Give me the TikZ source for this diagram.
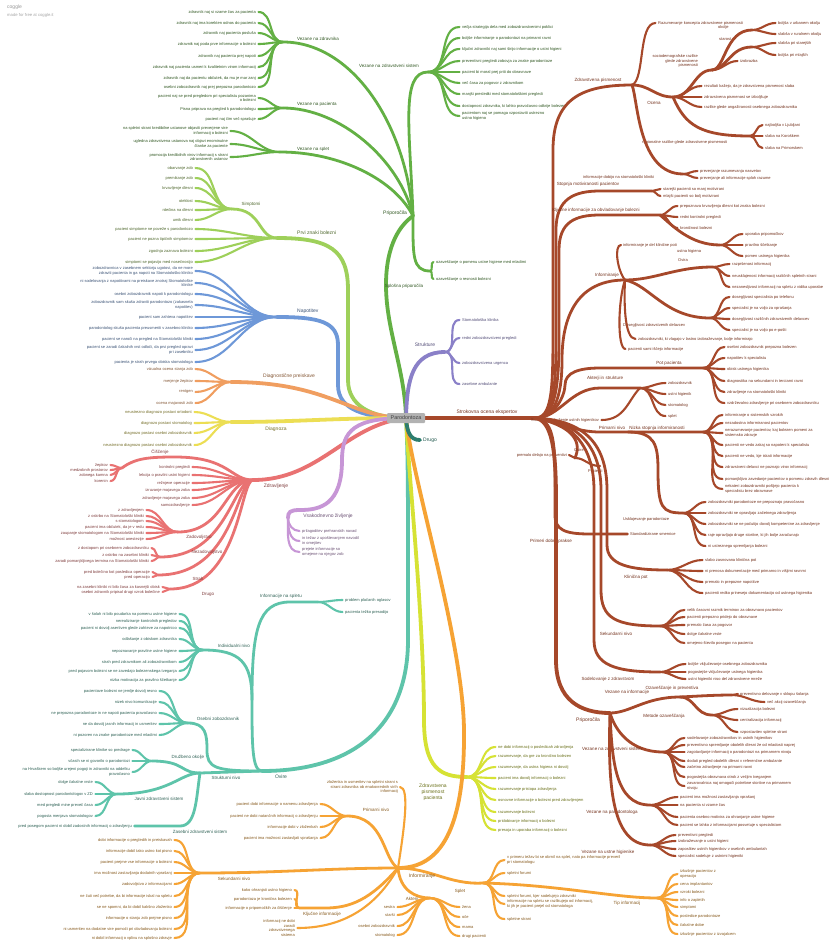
\documentclass[tikz,border=0pt]{standalone}
\usepackage{fontspec}
\setmainfont{Liberation Sans}
\newcommand\lfnt{\fontsize{4}{4.6}\selectfont}
\newcommand\bfnt{\fontsize{4.5}{5.1}\selectfont}
\newcommand\mfnt{\fontsize{5}{5.8}\selectfont}
\definecolor{cG}{RGB}{99,176,68}
\definecolor{cL}{RGB}{158,208,90}
\definecolor{cB}{RGB}{110,152,216}
\definecolor{cO}{RGB}{240,158,96}
\definecolor{cY}{RGB}{236,222,84}
\definecolor{cR}{RGB}{233,114,114}
\definecolor{cP}{RGB}{199,150,214}
\definecolor{cT}{RGB}{94,196,170}
\definecolor{cYG}{RGB}{214,226,52}
\definecolor{cI}{RGB}{246,163,52}
\definecolor{cDT}{RGB}{45,125,110}
\definecolor{cV}{RGB}{138,128,200}
\definecolor{cBr}{RGB}{166,72,42}
\colorlet{cGT}{cG!50!black}
\colorlet{cLT}{cL!50!black}
\colorlet{cBT}{cB!55!black}
\colorlet{cOT}{cO!55!black}
\colorlet{cYT}{cY!50!black}
\colorlet{cRT}{cR!55!black}
\colorlet{cPT}{cP!55!black}
\colorlet{cTT}{cT!50!black}
\colorlet{cYGT}{cYG!50!black}
\colorlet{cIT}{cI!55!black}
\colorlet{cDTT}{cDT!70!black}
\colorlet{cVT}{cV!60!black}
\colorlet{cBrT}{cBr!70!black}
% left fan: prefix, hub, right edge of texts, colour, list of y/text
\newcommand\fanL[5]{%
  \foreach \yy/\lbl [count=\i] in {#5}{%
    \node[leafL,text=#4T] (#1\i) at (#3,\yy) {\lbl};
    \draw[lnk,draw=#4] (#2) to[out=180,in=0] ([xshift=2.5pt]#1\i.east);}}
% right fan: prefix, hub, left edge of texts, colour, list of y/text
\newcommand\fanR[5]{%
  \foreach \yy/\lbl [count=\i] in {#5}{%
    \node[leafR,text=#4T] (#1\i) at (#3,\yy) {\lbl};
    \draw[lnk,draw=#4] (#2) to[out=0,in=180] ([xshift=-2.5pt]#1\i.west);}}
\begin{document}
\begin{tikzpicture}[x=1pt,y=-1pt,
  lnk/.style={line width=2.1pt,line cap=round},
  sub/.style={line width=2.8pt,line cap=round},
  trunk/.style={line width=3.8pt,line cap=round},
  leafL/.style={anchor=east,align=right,inner sep=0pt,font=\lfnt},
  leafR/.style={anchor=west,align=left,inner sep=0pt,font=\lfnt},
  blab/.style={inner sep=0pt,font=\bfnt},
  mlab/.style={inner sep=0pt,font=\mfnt},
  root/.style={fill=black!30,rounded corners=1pt,inner sep=2pt,minimum width=38pt,minimum height=10pt,font=\fontsize{5.4}{6}\selectfont,text=black!75}]
\useasboundingbox (0,0) rectangle (833,940);
\fill[white] (0,0) rectangle (833,940);
\node[anchor=west,inner sep=0pt,text=black!40,font=\fontsize{5}{6}\selectfont] (logo) at (7,7) {coggle};
\node[anchor=west,inner sep=0pt,text=black!35,font=\fontsize{4.2}{5}\selectfont] (made) at (7,15) {made for free at coggle.it};
\coordinate (rc) at (406,418);

% ---------------- Priporočila (green)
\coordinate (gP) at (413,216);
\coordinate (gZ) at (283,42);
\coordinate (gPa) at (283,108);
\coordinate (gS) at (280,152);
\coordinate (gZS) at (428,72);
\coordinate (gSP) at (430,271);
\draw[trunk,cG] (rc) .. controls (405,370) and (386,330) .. (386,285) .. controls (386,245) and (400,225) .. (gP);
\draw[sub,cG] (gP) .. controls (405,120) and (350,42) .. (gZ);
\draw[sub,cG] (gP) .. controls (400,160) and (340,108) .. (gPa);
\draw[sub,cG] (gP) .. controls (395,180) and (340,152) .. (gS);
\draw[sub,cG] (gP) .. controls (410,130) and (400,72) .. (gZS);
\draw[sub,cG] (gP) .. controls (413,255) and (412,271) .. (gSP);
\node[mlab,text=cGT] (gPl) at (395,213) {Priporočila};
\node[blab,text=cGT,anchor=west] (gZl) at (297,39) {Vezane na zdravnika};
\node[blab,text=cGT,anchor=west] (gPal) at (297,104) {Vezane na pacienta};
\node[blab,text=cGT,anchor=west] (gSl) at (297,149) {Vezane na splet};
\node[blab,text=cGT] (gZSl) at (389,66) {Vezane na zdravstveni sistem};
\node[blab,text=cGT] (gSPl) at (404,286) {Splošna priporočila};
\fanL{gz}{gZ}{256}{cG}{12/{zdravnik naj si vzame čas za pacienta},23/{zdravnik naj ima korekten odnos do pacienta},33/{zdravnik naj pacienta posluša},44/{zdravnik naj poda prve informacije o bolezni},56/{zdravnik naj pacienta prej napoti},67/{zdravnik naj pacienta usmeri k kvalitetnim virom informacij},78/{zdravnik naj da pacientu občutek, da mu je mar zanj},87/{osebni zobozdravnik naj prej prepozna parodontozo}}
\fanL{gpa}{gPa}{256}{cG}{98/{pacient naj se pred pregledom pri specialistu pozanima\\o bolezni},109/{Pisna priprava na pregled k parodontologu},119/{pacient naj čim več sprašuje}}
\fanL{gs}{gS}{228}{cG}{131/{na spletni strani kredibilne ustanove objaviti preverjene vire\\informacij o bolezni},144/{ugledna zdravstvena ustanova naj objavi enominutne\\članke za paciente},157/{promocija kredibilnih virov informacij s strani\\zdravstvenih ustanov}}
\fanR{gzs}{gZS}{462}{cG}{27/{večja strategija dela med zobozdravstvenimi poklici},38/{boljše informiranje o parodontozi na primarni ravni},49/{ključni zdravniki naj sami širijo informacije o ustni higieni},61/{preventivni pregledi zobovja za znake parodontoze},72/{pacient bi moral prej priti do obravnave},83/{več časa za pogovor z zdravnikom},94/{manjši presledki med stomatološkimi pregledi},106/{dostopnost zdravnika, ki lahko pravočasno odkrije bolezen},116/{pacientom naj se pomaga vzpostaviti ustrezno\\ustno higieno}}
\fanR{gsp}{gSP}{436}{cG}{262/{ozaveščanje o pomenu ustne higiene med mladimi},279/{ozaveščanje o resnosti bolezni}}

% ---------------- Prvi znaki bolezni (lime)
\coordinate (lP) at (277,238);
\coordinate (lS) at (232,209);
\draw[trunk,cL] (rc) .. controls (370,418) and (348,405) .. (348,380) -- (348,290) .. controls (348,250) and (330,238) .. (lP);
\draw[sub,cL] (lS) .. controls (262,209) and (258,238) .. (lP);
\node[mlab,text=cLT,anchor=west] (lPl) at (297,233) {Prvi znaki bolezni};
\node[blab,text=cLT] (lSl) at (251,204) {Simptomi};
\fanL{ls}{lS}{193}{cL}{168/{obarvanje zob},178/{premikanje zob},188/{krvavljenje dlesni},201/{oteklost},210/{rdečina na dlesni},220/{umik dlesni}}
\fanL{lp}{lP}{193}{cL}{229/{pacient simptome ne poveže s parodontozo},239/{pacient ne pozna tipičnih simptomov},251/{zgodnja zaznava bolezni},262/{simptomi se pojavijo med nosečnostjo}}

% ---------------- Napotitev (blue)
\coordinate (bN) at (277,317);
\draw[trunk,cB] (rc) .. controls (365,418) and (338,410) .. (338,385) -- (338,345) .. controls (338,322) and (320,317) .. (bN);
\node[mlab,text=cBT,anchor=west] (bNl) at (297,311) {Napotitev};
\fanL{bn}{bN}{193}{cB}{271/{zobozdravnica v zasebnem sektorju ugotovi, da ne more\\zdraviti pacienta in ga napoti na Stomatološko kliniko},283/{ni sodelovanja z napotitvami na preiskave znotraj Stomatološke\\klinike},294/{osebni zobozdravnik napoti k parodontologu},305/{zobozdravnik sam skuša zdraviti parodontozo (zakasnela\\napotitev)},317/{pacient sam zahteva napotitev},328/{parodontolog skuša pacienta preusmeriti v zasebno kliniko},339/{pacient se naroči na pregled na Stomatološki kliniki},350/{pacient se zaradi čakalnih vrst odloči, da prvi pregled opravi\\pri zasebniku},362/{pacienta je strah prvega obiska stomatologa}}

% ---------------- Diagnostične preiskave (orange)
\coordinate (oD) at (231,382);
\draw[trunk,cO] (rc) .. controls (350,418) and (330,382) .. (oD);
\node[mlab,text=cOT,anchor=west] (oDl) at (263,376) {Diagnostične preiskave};
\fanL{od}{oD}{193}{cO}{369/{vizualna ocena stanja zob},381/{merjenje žepkov},392/{rentgen},403/{ocena majavosti zob}}

% ---------------- Diagnoza (yellow)
\coordinate (yD) at (231,422);
\draw[trunk,cY] (rc) .. controls (330,418) and (300,422) .. (yD);
\node[mlab,text=cYT] (yDl) at (276,429) {Diagnoza};
\fanL{yd}{yD}{192}{cY}{412/{neustrezno diagnozo postavi ortodont},423/{diagnozo postavi stomatolog},433/{diagnozo postavi osebni zobozdravnik},445/{neustrezno diagnozo postavi osebni zobozdravnik}}

% ---------------- Zdravljenje (red)
\coordinate (rZ) at (253,480);
\coordinate (rC) at (122,468);
\coordinate (rZa) at (178,532);
\coordinate (rN) at (160,557);
\coordinate (rS) at (158,575);
\coordinate (rD) at (170,589);
\draw[trunk,cR] (rc) .. controls (345,425) and (320,480) .. (rZ);
\draw[sub,cR] (rC) .. controls (135,458) and (150,457) .. (175,457) .. controls (230,457) and (230,480) .. (rZ);
\draw[sub,cR] (rZa) .. controls (225,532) and (225,480) .. (rZ);
\draw[sub,cR] (rN) .. controls (228,557) and (232,480) .. (rZ);
\draw[sub,cR] (rS) .. controls (235,575) and (236,480) .. (rZ);
\draw[sub,cR] (rD) .. controls (240,589) and (240,480) .. (rZ);
\node[mlab,text=cRT] (rZl) at (276,486) {Zdravljenje};
\node[blab,text=cRT] (rCl) at (160,452) {Čiščenje};
\node[blab,text=cRT] (rZal) at (199,537) {Zadovoljstvo};
\node[blab,text=cRT] (rNl) at (207,552) {Nezadovoljstvo};
\node[blab,text=cRT] (rSl) at (198,579) {Strah};
\node[blab,text=cRT] (rDl) at (208,594) {Drugo};
\fanL{rc}{rC}{108}{cR}{465/{žepkov},470/{medzobnih prostorov},475/{zobnega kamna},481/{korenin}}
\fanL{rz}{rZ}{190}{cR}{467/{kontrolni pregledi},475/{lekcija o pravilni ustni higieni},483/{režnjeve operacije},490/{izruvanje majavega zoba},498/{zdravljenje majavega zoba},505/{samozdravljenje}}
\fanL{rza}{rZa}{144}{cR}{510/{z zdravljenjem},516/{z oskrbo na Stomatološki kliniki},521/{s stomatologom},527/{pacient ima občutek, da je v redu},533/{zaupanje stomatologom na Stomatološki kliniki},539/{možnost anestezije}}
\fanL{rn}{rN}{149}{cR}{548/{z dostopom pri osebnem zobozdravniku},555/{z oskrbo na zasebni kliniki},561/{zaradi pomanjkljivega termina na Stomatološki kliniki}}
\fanL{rs}{rS}{150}{cR}{572/{pred bolečino kot posledica operacije},577/{pred operacijo}}
\fanL{rd}{rD}{160}{cR}{587/{na zasebni kliniki ni bilo časa za kasnejši obisk},592/{osebni zdravnik pripisal drugi vzrok bolečine}}

% ---------------- Vsakodnevno življenje (purple)
\coordinate (pV) at (288,518);
\draw[trunk,cP] (rc) .. controls (355,418) and (342,430) .. (342,460) .. controls (342,505) and (320,510) .. (300,510) .. controls (290,510) and (288,512) .. (pV);
\node[mlab,text=cPT] (pVl) at (328,516) {Vsakodnevno življenje};
\foreach \yy/\lbl [count=\i] in {531/{prilagoditev prehranskih navad},541/{in težav z upoštevanjem navodil\\in omejitev},552/{prejete informacije so\\omejene na njegov zob}}{%
  \node[leafR,text=cPT] (pv\i) at (302,\yy) {\lbl};
  \draw[lnk,cP] (pV) to[out=-90,in=180] ([xshift=-2.5pt]pv\i.west);}

% ---------------- Ovire (teal)
\coordinate (tO) at (262,771);
\coordinate (tI) at (318,602);
\coordinate (tIn) at (203,650);
\coordinate (tSt) at (200,773);
\coordinate (tOz) at (188,723);
\coordinate (tDr) at (152,761);
\coordinate (tJ) at (117,794);
\draw[trunk,cT] (rc) .. controls (408,450) and (408,500) .. (408,560) -- (408,640) .. controls (408,720) and (360,771) .. (tO);
\draw[sub,cT] (tO) .. controls (252,771) and (252,745) .. (252,700) .. controls (252,630) and (258,602) .. (290,602) -- (tI);
\draw[sub,cT] (tIn) .. controls (240,650) and (252,662) .. (252,700);
\draw[sub,cT] (tO) -- (tSt);
\draw[sub,cT] (tOz) .. controls (206,723) and (207,735) .. (207,750) .. controls (207,768) and (215,771) .. (tO);
\draw[sub,cT] (tDr) .. controls (185,761) and (180,773) .. (tSt);
\draw[sub,cT] (tJ) .. controls (170,794) and (180,773) .. (tSt);
\node[mlab,text=cTT] (tOl) at (281,777) {Ovire};
\node[blab,text=cTT] (tIl) at (281,596) {Informacije na spletu};
\node[blab,text=cTT] (tInl) at (234,646) {Individualni nivo};
\node[blab,text=cTT] (tStl) at (226,778) {Strukturni nivo};
\node[blab,text=cTT] (tOzl) at (218,719) {Osebni zobozdravnik};
\node[blab,text=cTT] (tDrl) at (188,757) {Družbeno okolje};
\node[blab,text=cTT] (tJl) at (159,799) {Javni zdravstveni sistem};
\node[blab,text=cTT] (tZsl) at (200,832) {Zasebni zdravstveni sistem};
\fanR{ti}{tI}{345}{cT}{600/{problem plačanih oglasov},612/{pacienta težko presodijo}}
\fanL{tin}{tIn}{177}{cT}{614/{v šolah ni bilo poudarka na pomenu ustne higiene},621/{nerealiziranje kontrolnih pregledov},628/{pacient ni dovolj asertiven glede zahteve za napotnico},639/{odlašanje z obiskom zdravnika},651/{nepoznavanje pravilne ustne higiene},662/{strah pred zdravnikom ali zobozdravnikom},671/{pred pojavom bolezni se ne zavedajo bolezenskega tveganja},680/{nizka motivacija za pravilno ščetkanje}}
\fanL{toz}{tOz}{157}{cT}{691/{pacientove bolezni ne jemlje dovolj resno},702/{nizek nivo komunikacije},713/{ne prepozna parodontoze in ne napoti pacienta pravočasno},724/{ne da dovolj jasnih informacij in usmeritev},735/{ni pozoren na znake parodontoze med mladimi}}
\fanL{tdr}{tDr}{130}{cT}{750/{specializirane klinike so predrage},761/{včasih se ni govorilo o parodontozi},772/{na Hrvaškem so boljše urejeni pogoji in zdravniki na oddelku\\pravočasno}}
\fanL{tj}{tJ}{93}{cT}{782/{dolge čakalne vrste},794/{slaba dostopnost parodontologov v ZD},805/{med pregledi mine preveč časa},816/{pogosta menjava stomatologov}}
\node[leafL,text=cTT] (tzs) at (132,826) {pred posegom pacient ni dobil zadostnih informacij o zdravljenju};
\draw[sub,cT] (tSt) .. controls (196,800) and (196,826) .. (180,826) -- ([xshift=2.5pt]tzs.east);

% ---------------- Zdravstvena pismenost pacienta (yellow-green)
\coordinate (yZ) at (467,777);
\draw[trunk,cYG] (rc) .. controls (409,480) and (424,620) .. (424,720) .. controls (424,768) and (440,777) .. (yZ);
\node[mlab,text=cYGT,align=center] (yZl) at (433,792) {Zdravstvena\\pismenost\\pacienta};
\fanR{yz}{yZ}{498}{cYG}{747/{ne dobi informacij o posledicah zdravljenja},756/{razumevanje, da gre za kronično bolezen},767/{razumevanje, da ustna higiena ni dovolj},778/{pacient ima dovolj informacij o bolezni},789/{razumevanje pristopa zdravljenja},800/{osnovne informacije o bolezni pred zdravljenjem},812/{razumevanje bolezni},821/{pridobivanje informacij o bolezni},830/{presoja in uporaba informacij o bolezni}}

% ---------------- Informiranje (orange)
\coordinate (oI) at (398,868);
\coordinate (oPn) at (347,816);
\coordinate (oSn) at (200,873);
\coordinate (oK) at (299,908);
\coordinate (oA) at (430,898);
\coordinate (oS) at (483,883);
\coordinate (oT) at (657,898);
\draw[trunk,cI] (rc) .. controls (412,480) and (463,640) .. (464,730) .. controls (465,830) and (440,868) .. (oI);
\draw[sub,cI] (oI) .. controls (383,860) and (385,816) .. (oPn);
\draw[sub,cI] (oI) .. controls (330,868) and (280,873) .. (oSn);
\draw[sub,cI] (oI) .. controls (370,900) and (350,908) .. (325,908) -- (oK);
\draw[sub,cI] (oI) .. controls (400,890) and (415,898) .. (oA);
\draw[sub,cI] (oI) .. controls (430,868) and (450,885) .. (oS);
\draw[sub,cI] (oS) .. controls (560,885) and (615,898) .. (oT);
\node[mlab,text=cIT] (oIl) at (422,876) {Informiranje};
\node[blab,text=cIT] (oPnl) at (376,810) {Primarni nivo};
\node[blab,text=cIT] (oSnl) at (234,879) {Sekundarni nivo};
\node[blab,text=cIT] (oKl) at (322,914) {Ključne informacije};
\node[blab,text=cIT] (oAl) at (412,899) {Akterji};
\node[blab,text=cIT] (oSl) at (460,891) {Splet};
\node[blab,text=cIT] (oTl) at (627,903) {Tip informacij};
\fanL{opn}{oPn}{318}{cI}{804/{pacient dobi informacije o namenu zdravljenja},816/{pacient ne dobi natančnih informacij o zdravljenju},827/{informacije dobi v zloženkah},838/{pacient ima možnost zastavljati vprašanja}}
\node[leafL,text=cIT] (ozl) at (398,787) {zloženka in usmeritev na spletni strani s\\strani zdravnika ob enakovrednih virih\\informacij};
\draw[lnk,cI] (oI) .. controls (404,830) and (410,787) .. ([xshift=2pt]ozl.east);
\fanL{osn}{oSn}{172}{cI}{840/{dobi informacije o pregledih in preiskavah},851/{informacije dobil tako ustno kot pisno},862/{pacient prejme vse informacije o bolezni},873/{ima možnost zastavljanja dodatnih vprašanj},884/{zadovoljstvo z informacijami},896/{ne čuti več potrebe, da bi informacije iskal na spletu},907/{se ne spomni, da bi dobil kakšno zloženko},918/{informacije o stanju zob prejme pisno},929/{ni usmeritev na dodatne vire pomoči pri obvladovanju bolezni},938/{ni dobil informacij o vplivu na splošno zdravje}}
\fanL{ok}{oK}{292}{cI}{890/{kako ohranjati ustno higieno},899/{parodontoza je kronična bolezen},908/{informacije o pripomočkih za čiščenje}}
\node[leafL,text=cIT] (ond) at (295,928) {informacij ne dobi\\zaradi\\zdravstvenega\\sistema};
\draw[lnk,cI] (oI) .. controls (380,900) and (350,928) .. ([xshift=2.5pt]ond.east);
\fanL{oal}{oA}{395}{cI}{907/{sestra},915/{starši},926/{osebni zobozdravnik},935/{stomatolog}}
\fanR{oar}{oA}{462}{cI}{907/{žena},917/{oče},927/{mama},936/{drugi pacienti}}
\fanR{os}{oS}{507}{cI}{860/{v primeru težav bi se obrnil na splet, nato pa informacije preveril\\pri stomatologu},873/{spletni forumi},896/{spletni forumi, kjer sodelujejo zdravniki},904/{informacije na spletu se razlikujejo od informacij,\\ki jih je pacient prejel od stomatologa},919/{spletne strani}}
\fanR{ot}{oT}{680}{cI}{874/{izkušnje pacientov z\\operacijo},884/{cena implantantov},892/{vzroki bolezni},900/{info o zapletih},907/{simptomi},916/{posledice parodontoze},925/{čakalne dobe},934/{izkušnje pacientov z izvajalcem}}

% ---------------- Drugo (dark teal)
\coordinate (dD) at (420,440);
\draw[trunk,cDT] (rc) .. controls (407,432) and (410,440) .. (dD);
\node[mlab,text=cDTT,anchor=west] (dDl) at (423,440) {Drugo};

% ---------------- Strukture (violet)
\coordinate (sS) at (445,352);
\draw[trunk,cV] (rc) .. controls (407,380) and (412,352) .. (sS);
\node[mlab,text=cVT] (sSl) at (425,345) {Strukture};
\fanR{ss}{sS}{462}{cV}{320/{Stomatološka klinika},338/{redni zobozdravstveni pregledi},363/{zobozdravstvena urgenca},384/{zasebne ambulante}}

% ---------------- Strokovna ocena ekspertov (brown)
\coordinate (bH) at (535,418);
\coordinate (bZp) at (632,85);
\coordinate (bOc) at (673,97);
\coordinate (bSd) at (712,70);
\coordinate (bOk) at (752,30);
\coordinate (bSt) at (752,47);
\coordinate (bRg) at (750,136);
\coordinate (bPr) at (683,174);
\coordinate (bSm) at (652,191);
\coordinate (bKi) at (660,215);
\coordinate (bUh) at (720,245);
\coordinate (bIn) at (625,280);
\coordinate (bOv) at (713,267);
\coordinate (bDo) at (710,318);
\coordinate (bPp) at (703,368);
\coordinate (bAk) at (640,388);
\coordinate (bPn) at (628,432);
\coordinate (bNs) at (703,432);
\coordinate (bUs) at (683,513);
\coordinate (bOvi) at (575,458);
\coordinate (bPc) at (600,466);
\coordinate (bKp) at (667,570);
\coordinate (bSn) at (660,626);
\coordinate (bSz) at (660,672);
\coordinate (bPri) at (610,713);
\coordinate (bVi) at (680,697);
\coordinate (bOz) at (732,695);
\coordinate (bMo) at (712,715);
\coordinate (bVz) at (663,752);
\coordinate (bVp) at (650,805);
\coordinate (bVu) at (650,845);
\draw[trunk,cBr] (rc) -- (bH);
\node[mlab,text=cBrT] (bHl) at (487,412) {Strokovna ocena ekspertov};
% upper branches
\draw[sub,cBr] (bH) .. controls (552,418) and (553,390) .. (553,330) -- (553,150) .. controls (553,100) and (580,85) .. (bZp);
\draw[sub,cBr] (bH) .. controls (552,418) and (556,395) .. (556,340) -- (556,230) .. controls (556,198) and (575,191) .. (600,191) -- (bSm);
\draw[sub,cBr] (bH) .. controls (553,418) and (559,395) .. (559,340) -- (559,250) .. controls (559,222) and (575,215) .. (600,215) -- (bKi);
\draw[sub,cBr] (bH) .. controls (553,418) and (562,400) .. (562,360) .. controls (562,300) and (590,280) .. (bIn);
\draw[sub,cBr] (bH) .. controls (555,418) and (565,395) .. (565,385) .. controls (565,372) and (580,368) .. (600,368) -- (bPp);
\draw[sub,cBr] (bH) .. controls (560,418) and (570,388) .. (600,388) -- (bAk);
\node[blab,text=cBrT] (bZpl) at (598,80) {Zdravstvena pismenost};
\node[leafR,text=cBrT] (brk) at (658,23) {Razumevanje koncepta zdravstvene pismenosti};
\draw[lnk,cBr] (bZp) .. controls (645,80) and (638,23) .. ([xshift=-2.5pt]brk.west);
\draw[sub,cBr] (bZp) .. controls (650,85) and (655,97) .. (bOc);
\node[blab,text=cBrT] (bOcl) at (654,103) {Ocena};
\draw[sub,cBr] (bOc) .. controls (692,97) and (694,70) .. (bSd);
\node[leafL,text=cBrT] (bSdl) at (698,61) {sociodemografske razlike\\glede zdravstvene\\pismenosti};
\draw[sub,cBr] (bSd) .. controls (725,70) and (725,30) .. (bOk);
\draw[sub,cBr] (bSd) .. controls (728,68) and (730,47) .. (bSt);
\node[leafR,text=cBrT] (bOkl) at (718,27) {okolje};
\node[leafR,text=cBrT] (bStl) at (719,39) {starost};
\fanR{bok}{bOk}{778}{cBr}{23/{boljša v urbanem okolju},34/{slabša v ruralnem okolju}}
\fanR{bst}{bSt}{778}{cBr}{43/{slabša pri starejših},55/{boljša pri mlajših}}
\node[leafR,text=cBrT] (biz) at (740,61) {izobrazba};
\draw[lnk,cBr] (bSd) to[out=0,in=180] ([xshift=-2.5pt]biz.west);
\fanR{boc}{bOc}{704}{cBr}{86/{rezultati kažejo, da je zdravstvena pismenost slaba},97/{zdravstvena pismenost se izboljšuje},107/{razlike glede angažiranosti osebnega zobozdravnika}}
\draw[sub,cBr] (bOc) .. controls (685,125) and (700,136) .. (bRg);
\node[leafR,text=cBrT] (bRgl) at (642,142) {regionalne razlike glede zdravstvene pismenosti};
\fanR{brg}{bRg}{765}{cBr}{125/{najboljša v Ljubljani},136/{slaba na Koroškem},148/{slaba na Primorskem}}
\draw[sub,cBr] (bZp) .. controls (638,100) and (638,174) .. (bPr);
\node[leafR,text=cBrT] (bPrl) at (583,177) {informacije dobijo na stomatološki kliniki};
\fanR{bpr}{bPr}{700}{cBr}{171/{preverjanje razumevanja nasvetov},178/{preverjanje ali informacije sploh razume}}
\node[blab,text=cBrT] (bSml) at (588,184) {Stopnja motiviranosti pacientov};
\fanR{bsm}{bSm}{663}{cBr}{189/{starejši pacienti so manj motivirani},196/{mlajši pacienti so bolj motivirani}}
\node[blab,text=cBrT] (bKil) at (596,210) {Ključne informacije za obvladovanje bolezni};
\fanR{bki}{bKi}{680}{cBr}{206/{prepoznava krvavljenja dlesni kot znaka bolezni},217/{redni kontrolni pregledi},228/{kroničnost bolezni}}
\draw[sub,cBr] (bKi) .. controls (672,225) and (690,245) .. (bUh);
\node[leafR,text=cBrT] (bUhl) at (677,251) {ustna higiena};
\fanR{buh}{bUh}{745}{cBr}{234/{uporaba pripomočkov},245/{pravilno ščetkanje},256/{pomen ustnega higienika}}
\node[blab,text=cBrT] (bInl) at (607,275) {Informiranje};
\node[leafR,text=cBrT] (bkp) at (623,245) {informiranje je del klinične poti};
\draw[lnk,cBr] (bIn) .. controls (617,270) and (614,245) .. ([xshift=-2pt]bkp.west);
\draw[sub,cBr] (bIn) .. controls (655,280) and (675,267) .. (bOv);
\node[leafR,text=cBrT] (bOvl) at (678,260) {Ovira};
\fanR{bov}{bOv}{732}{cBr}{264/{razpršenost informacij},276/{neusklajenost informacij različnih spletnih strani},287/{nezanesljivost informacij na spletu z vidika uporabe}}
\draw[sub,cBr] (bIn) .. controls (650,285) and (665,318) .. (bDo);
\node[leafR,text=cBrT] (bDol) at (623,325) {Dosegljivost zdravstvenih delavcev};
\fanR{bdo}{bDo}{732}{cBr}{297/{dosegljivost specialista po telefonu},308/{specialist je na voljo za vprašanja},319/{dosegljivost različnih zdravstvenih delavcev},330/{specialist je na voljo po e-pošti}}
\node[leafR,text=cBrT] (bzi) at (638,339) {zobozdravniki, ki vlagajo v lastno izobraževanje, bolje informirajo};
\draw[lnk,cBr] (bIn) .. controls (624,300) and (624,339) .. ([xshift=-2.5pt]bzi.west);
\node[leafR,text=cBrT] (bps) at (628,349) {pacienti sami iščejo informacije};
\draw[lnk,cBr] (bIn) .. controls (618,300) and (617,349) .. ([xshift=-2.5pt]bps.west);
\node[blab,text=cBrT] (bPpl) at (669,363) {Pot pacienta};
\fanR{bpp}{bPp}{727}{cBr}{347/{osebni zobozdravnik prepozna bolezen},358/{napotitev k specialistu},369/{obisk ustnega higienika},381/{diagnostika na sekundarni in terciarni ravni},392/{zdravljenje na stomatološki kliniki},403/{vzdrževalno zdravljenje pri osebnem zobozdravniku}}
\node[blab,text=cBrT] (bAkl) at (605,378) {Akterji in strukture};
\fanR{bak}{bAk}{668}{cBr}{383/{zobozdravnik},394/{ustni higienik},405/{stomatolog},416/{splet}}
\node[leafL,text=cBrT] (bsz) at (599,420) {Slovensko združenje ustnih higienikov};
\draw[lnk,cBr] (bAk) .. controls (628,400) and (625,420) .. ([xshift=2.5pt]bsz.east);
% lower branches
\draw[sub,cBr] (bH) .. controls (560,422) and (575,432) .. (600,432) -- (bNs);
\node[blab,text=cBrT] (bPnl) at (612,428) {Primarni nivo};
\node[blab,text=cBrT] (bNsl) at (657,428) {Nizka stopnja informiranosti};
\fanR{bns}{bNs}{725}{cBr}{415/{informiranje o sistemskih vzrokih},423/{nezadostna informiranost pacientov},433/{nerazumevanje pacientov, kaj bolezen pomeni za\\sistemsko zdravje},445/{pacienti ne vedo zakaj so napoteni k specialistu},456/{pacienti ne vedo, kje iskati informacije},467/{zdravstveni delavci ne poznajo virov informacij},479/{pomanjkljivo zavedanje pacientov o pomenu zdravih dlesni},489/{nekateri zobozdravniki pošljejo pacienta k\\specialistu brez obravnave}}
\draw[sub,cBr] (bPn) .. controls (655,432) and (658,445) .. (658,470) .. controls (658,508) and (662,513) .. (bUs);
\node[leafR,text=cBrT] (bUsl) at (623,519) {Usklajevanje parodontoze};
\fanR{bus}{bUs}{708}{cBr}{502/{zobozdravniki parodontoze ne prepoznajo pravočasno},513/{zobozdravniki ne opravljajo začetnega zdravljenja},524/{zobozdravniki se ne počutijo dovolj kompetentne za zdravljenje},535/{raje opravljajo druge storitve, ki jih bolje zaračunajo},546/{ni ustreznega spremljanja bolezni}}
\draw[sub,cBr] (bH) .. controls (570,425) and (583,440) .. (bOvi);
\draw[lnk,cBr] (bOvi) .. controls (585,458) and (588,466) .. (bPc);
\node[leafR,text=cBrT] (bOvil) at (574,450) {Ovire};
\node[leafR,text=cBrT] (bPcl) at (588,471) {Pacienti};
\node[leafL,text=cBrT] (bpp) at (567,455) {premalo delajo na preventivi};
\draw[lnk,cBr] (bOvi) -- ([xshift=2pt]bpp.east);
\node[leafR,text=cBrT] (bstd) at (630,534) {Standardizirane smernice};
\draw[sub,cBr] (bH) .. controls (553,420) and (555,440) .. (555,480) -- (555,515) .. controls (555,530) and (565,534) .. (590,534) -- ([xshift=-2.5pt]bstd.west);
\node[blab,text=cBrT] (bPdl) at (551,541) {Primeri dobre prakse};
\draw[sub,cBr] (bH) .. controls (580,420) and (607,440) .. (607,490) -- (607,545) .. controls (607,565) and (630,570) .. (bKp);
\node[blab,text=cBrT] (bKpl) at (636,577) {Klinična pot};
\fanR{bkp}{bKp}{705}{cBr}{560/{slabo zasnovana klinična pot},571/{ni prenosa dokumentacije med primarno in višjimi ravnmi},582/{premalo in prepozne napotitve},593/{pacienti redko prinesejo dokumentacijo od ustnega higienika}}
\draw[sub,cBr] (bH) .. controls (570,420) and (601,440) .. (601,490) -- (601,590) .. controls (601,618) and (615,626) .. (bSn);
\node[blab,text=cBrT] (bSnl) at (616,634) {Sekundarni nivo};
\fanR{bsn}{bSn}{687}{cBr}{610/{velik časovni razmik terminov za obravnavo pacientov},617/{pacienti prepozno pridejo do obravnave},625/{premalo časa za pogovor},634/{dolge čakalne vrste},643/{omejeno število posegov na pacienta}}
\draw[sub,cBr] (bH) .. controls (565,420) and (594,440) .. (594,490) -- (594,640) .. controls (594,665) and (615,672) .. (bSz);
\node[blab,text=cBrT] (bSzl) at (608,679) {Sodelovanje z zdravstvom};
\fanR{bsz}{bSz}{688}{cBr}{664/{boljše vključevanje osebnega zobozdravnika},672/{pogostejše vključevanje ustnega higienika},679/{ustni higieniki niso del zdravstvene mreže}}
\draw[trunk,cBr] (bH) .. controls (552,420) and (556,450) .. (556,500) -- (556,660) .. controls (556,700) and (580,713) .. (bPri);
\node[mlab,text=cBrT] (bPril) at (588,720) {Priporočila};
\draw[sub,cBr] (bPri) .. controls (630,713) and (645,697) .. (bVi);
\node[blab,text=cBrT] (bVil) at (627,692) {Vezane na informacije};
\draw[sub,cBr] (bVi) .. controls (700,696) and (715,695) .. (bOz);
\node[blab,text=cBrT] (bOzl) at (672,688) {Ozaveščanje in preventiva};
\node[leafR,text=cBrT] (boz1) at (740,694) {preventivno delovanje v sklopu šolanja};
\draw[lnk,cBr] (bOz) -- ([xshift=-2pt]boz1.west);
\node[leafR,text=cBrT] (boz2) at (767,702) {več akcij ozaveščanja};
\draw[lnk,cBr] (bOz) to[out=0,in=180] ([xshift=-2.5pt]boz2.west);
\draw[sub,cBr] (bVi) .. controls (695,697) and (695,715) .. (bMo);
\node[blab,text=cBrT] (bMol) at (664,716) {Metode ozaveščanja};
\fanR{bmo}{bMo}{740}{cBr}{709/{vizualizacija bolezni},720/{centralizacija informacij},732/{vzpostavitev spletne strani}}
\draw[sub,cBr] (bPri) .. controls (615,730) and (630,752) .. (bVz);
\node[blab,text=cBrT] (bVzl) at (612,749) {Vezane na zdravstveni sistem};
\fanR{bvz}{bVz}{687}{cBr}{738/{sodelovanje zobozdravnikov in ustnih higienikov},745/{preventivno spremljanje obolelih dlesni že od mladosti naprej},752/{zagotavljanje informacij o parodontozi na primarnem nivoju},761/{dodati pregled obolelih dlesni v referenčne ambulante},767/{začetno zdravljenje na primarni ravni},777/{pogostejša obravnava otrok z večjim tveganjem},786/{zavarovalnica naj omogoči potrebne storitve na primarnem\\nivoju}}
\draw[sub,cBr] (bPri) .. controls (612,760) and (615,805) .. (bVp);
\node[blab,text=cBrT] (bVpl) at (612,812) {Vezane na parodontologa};
\fanR{bvp}{bVp}{680}{cBr}{797/{pacient ima možnost zastavljanja vprašanj},805/{na pacienta si vzame čas},817/{pacienta osebno motivira za ohranjanje ustne higiene},825/{pacient se lahko z informacijami posvetuje s specialistom}}
\draw[sub,cBr] (bPri) .. controls (608,780) and (610,845) .. (bVu);
\node[blab,text=cBrT] (bVul) at (608,852) {Vezane na ustne higienike};
\fanR{bvu}{bVu}{678}{cBr}{835/{preventivni pregledi},841/{izobraževanje o ustni higieni},849/{zaposlitev ustnih higienikov v osebnih ambulantah},856/{specialist sodeluje z ustnimi higieniki}}

% ---------------- central topic
\node[root] (root) at (rc) {Parodontoza};
\end{tikzpicture}
\end{document}
